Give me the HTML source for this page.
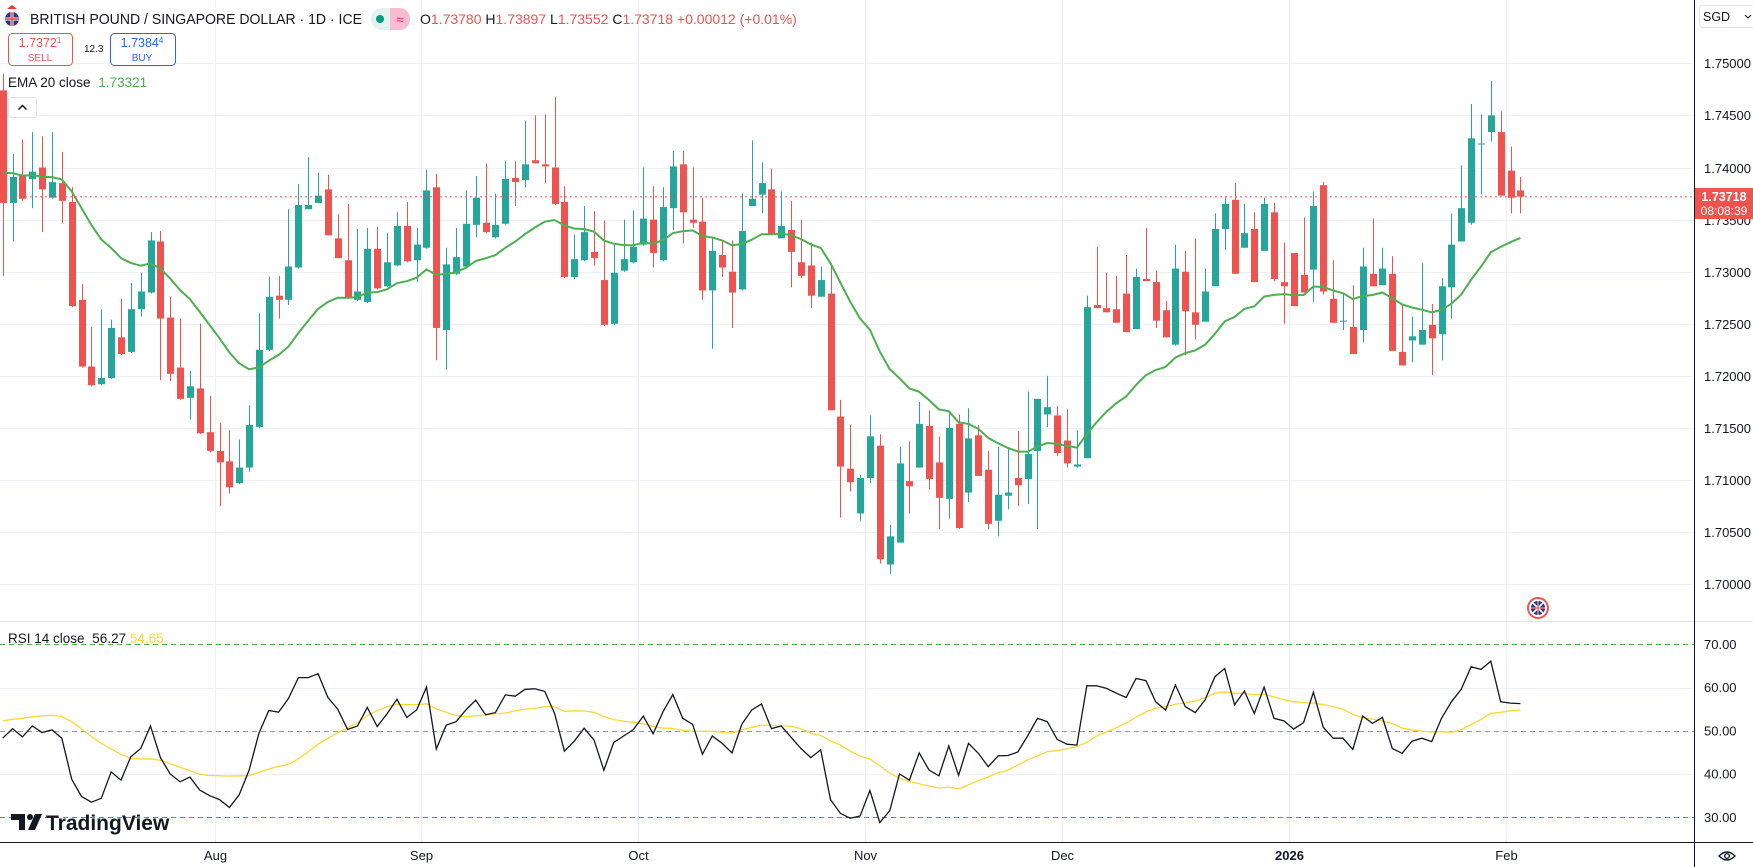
<!DOCTYPE html>
<html><head><meta charset="utf-8"><style>
html,body{margin:0;padding:0;background:#fff;width:1753px;height:867px;overflow:hidden}
svg{display:block;font-family:"Liberation Sans",sans-serif}
</style></head><body>
<svg id="chart" width="1753" height="867" viewBox="0 0 1753 867" xmlns="http://www.w3.org/2000/svg">
<rect width="1753" height="867" fill="#fff"/>
<g id="grid"></g>
<g id="rsiLevels"></g>
<g id="candles"></g>
<path id="ema" fill="none" stroke="#4caf50" stroke-width="2"/>
<path id="rsiMa" fill="none" stroke="#fdd835" stroke-width="1.3"/>
<path id="rsi" fill="none" stroke="#131722" stroke-width="1.3"/>
<line x1="0" x2="1694" y1="196.9" y2="196.9" stroke="#ef5350" stroke-dasharray="2,3" stroke-width="1"/>
<line x1="0" x2="1753" y1="621.5" y2="621.5" stroke="#e0e3eb"/>
<line x1="1694.5" x2="1694.5" y1="0" y2="867" stroke="#131722" stroke-width="1"/>
<line x1="0" x2="1753" y1="842.5" y2="842.5" stroke="#131722" stroke-width="1"/>
<g id="yLabels" font-size="13" fill="#131722"></g>
<g id="xLabels" font-size="13" fill="#131722"></g>
<g>
<rect x="1695" y="188" width="58" height="31" fill="#ef5350"/>
<text x="1724" y="201" font-size="12.5" font-weight="bold" fill="#fff" text-anchor="middle">1.73718</text>
<text x="1724" y="215" font-size="12" fill="#fff" text-anchor="middle">08:08:39</text>
</g>
<g>
<rect x="1699.5" y="5.5" width="56" height="22" rx="3" fill="#fff" stroke="#e0e3eb"/>
<text x="1703" y="21" font-size="12.5" fill="#131722">SGD</text>
<path d="M1745 15 l3 3 l3 -3" fill="none" stroke="#131722" stroke-width="1"/>
</g>
<g>
<circle cx="12" cy="19" r="7" fill="#1e3a8a"/>
<path d="M5 19 h14 M12 12 v14" stroke="#fff" stroke-width="3"/>
<path d="M5 19 h14 M12 12 v14" stroke="#e53935" stroke-width="1.4"/>
<path d="M7 9 l5 -4 l5 4z" fill="#e53935"/>
</g>
<text x="30" y="24" font-size="15" textLength="332" lengthAdjust="spacingAndGlyphs" fill="#131722">BRITISH POUND / SINGAPORE DOLLAR · 1D · ICE</text>
<g>
<rect x="371" y="8" width="39" height="22" rx="11" fill="#e3f2ef"/>
<rect x="390" y="8" width="10" height="22" fill="#f8bbd0"/>
<path d="M400 8 h0 a10 11 0 0 1 0 22 h0z" fill="#f8bbd0"/>
<circle cx="380" cy="19" r="4" fill="#089981"/>
<text x="400" y="24" font-size="13" fill="#e91e63" text-anchor="middle">≈</text>
</g>
<text x="420" y="24" font-size="14" fill="#ef5350"><tspan fill="#131722">O</tspan>1.73780 <tspan fill="#131722">H</tspan>1.73897 <tspan fill="#131722">L</tspan>1.73552 <tspan fill="#131722">C</tspan>1.73718 +0.00012 (+0.01%)</text>
<g>
<rect x="8.5" y="33.5" width="64" height="32" rx="4" fill="#fff" stroke="#ef5350"/>
<text x="40" y="47" font-size="12.5" fill="#ef5350" text-anchor="middle">1.7372<tspan font-size="8" dy="-4">1</tspan></text>
<text x="40" y="61" font-size="10" fill="#ef5350" text-anchor="middle">SELL</text>
</g>
<text x="84" y="52" font-size="10" fill="#131722">12.3</text>
<g>
<rect x="110.5" y="33.5" width="65" height="32" rx="4" fill="#fff" stroke="#2962ff"/>
<text x="142" y="47" font-size="12.5" fill="#2962ff" text-anchor="middle">1.7384<tspan font-size="8" dy="-4">4</tspan></text>
<text x="142" y="61" font-size="10" fill="#2962ff" text-anchor="middle">BUY</text>
</g>
<text x="8" y="87" font-size="13.5" fill="#131722">EMA 20 close <tspan fill="#4caf50" dx="4">1.73321</tspan></text>
<g>
<rect x="8.5" y="97.5" width="28" height="20" rx="3" fill="#fff" stroke="#e0e3eb"/>
<path d="M18.5 109.5 l4 -4 l4 4" fill="none" stroke="#131722" stroke-width="1.5"/>
</g>
<text x="8" y="643" font-size="13.5" fill="#131722">RSI 14 close <tspan dx="4">56.27</tspan> <tspan fill="#fdd835">54.65</tspan></text>
<g>
<circle cx="1538" cy="608" r="10" fill="#fff" stroke="#ef5350" stroke-width="2"/>
<circle cx="1538" cy="608" r="7" fill="#1e3a8a"/>
<path d="M1531 608 h14 M1538 601 v14 M1533 603 l10 10 M1543 603 l-10 10" stroke="#fff" stroke-width="1.6"/>
<path d="M1531 608 h14 M1538 601 v14" stroke="#e53935" stroke-width="1"/>
</g>
<g>
<path d="M11 814 h14 v16 h-6 v-10 h-8z" fill="#131722"/>
<circle cx="30" cy="817" r="3" fill="#131722"/>
<path d="M35 814 h7 l-7 16 h-7z" fill="#131722"/>
<text x="46" y="830" font-size="21" font-weight="bold" fill="#131722">TradingView</text>
</g>
<g>
<path d="M1719 856 q8 -8 16 0 q-8 8 -16 0z" fill="none" stroke="#131722" stroke-width="1.3"/>
<circle cx="1727" cy="856" r="2.3" fill="none" stroke="#131722" stroke-width="1.3"/>
</g>
</svg>
<script>
const opens=[1.7474,1.7366,1.7393,1.7389,1.7400,1.7371,1.7385,1.7367,1.7273,1.7209,1.7192,1.7198,1.7237,1.7223,1.7264,1.7280,1.7329,1.7256,1.7208,1.7179,1.7188,1.7146,1.7128,1.7118,1.7097,1.7112,1.7151,1.7225,1.7277,1.7273,1.7304,1.7360,1.7366,1.7379,1.7332,1.7311,1.7273,1.7271,1.7322,1.7286,1.7306,1.7344,1.7311,1.7323,1.7381,1.7244,1.7298,1.7305,1.7345,1.7347,1.7333,1.7346,1.7390,1.7388,1.7407,1.7403,1.7400,1.7367,1.7295,1.7311,1.7319,1.7292,1.7250,1.7301,1.7309,1.7326,1.7350,1.7311,1.7361,1.7403,1.7350,1.7348,1.7282,1.7316,1.7300,1.7283,1.7363,1.7374,1.7379,1.7332,1.7340,1.7309,1.7306,1.7276,1.7279,1.7161,1.7111,1.7068,1.7102,1.7133,1.7019,1.7040,1.7099,1.7112,1.7152,1.7117,1.7082,1.7154,1.7088,1.7143,1.7110,1.7061,1.7085,1.7102,1.7101,1.7128,1.7163,1.7162,1.7138,1.7113,1.7121,1.7268,1.7265,1.7264,1.7279,1.7245,1.7293,1.7290,1.7263,1.7230,1.7300,1.7261,1.7252,1.7286,1.7341,1.7369,1.7323,1.7341,1.7320,1.7357,1.7290,1.7318,1.7297,1.7302,1.7383,1.7274,1.7252,1.7247,1.7244,1.7298,1.7287,1.7298,1.7223,1.7234,1.7230,1.7249,1.7240,1.7285,1.7329,1.7347,1.7423,1.7434,1.7434,1.7397,1.7378];
const highs=[1.7490,1.7413,1.7427,1.7434,1.7430,1.7434,1.7415,1.7381,1.7288,1.7247,1.7264,1.7254,1.7274,1.7289,1.7299,1.7338,1.7339,1.7276,1.7255,1.7205,1.7250,1.7181,1.7155,1.7148,1.7139,1.7172,1.7260,1.7295,1.7296,1.7360,1.7384,1.7410,1.7395,1.7393,1.7355,1.7365,1.7341,1.7342,1.7343,1.7337,1.7357,1.7367,1.7342,1.7398,1.7394,1.7323,1.7342,1.7378,1.7392,1.7404,1.7375,1.7406,1.7406,1.7445,1.7450,1.7451,1.7468,1.7382,1.7336,1.7363,1.7358,1.7349,1.7327,1.7350,1.7359,1.7400,1.7382,1.7381,1.7416,1.7416,1.7400,1.7371,1.7332,1.7330,1.7330,1.7375,1.7426,1.7405,1.7399,1.7377,1.7368,1.7350,1.7328,1.7305,1.7308,1.7177,1.7153,1.7105,1.7162,1.7144,1.7057,1.7132,1.7137,1.7175,1.7167,1.7142,1.7165,1.7163,1.7169,1.7153,1.7128,1.7132,1.7131,1.7147,1.7185,1.7178,1.7200,1.7171,1.7168,1.7148,1.7277,1.7324,1.7299,1.7296,1.7316,1.7303,1.7342,1.7301,1.7272,1.7326,1.7320,1.7332,1.7303,1.7356,1.7372,1.7385,1.7365,1.7357,1.7371,1.7366,1.7328,1.7318,1.7352,1.7377,1.7386,1.7311,1.7280,1.7287,1.7323,1.7351,1.7323,1.7315,1.7269,1.7257,1.7308,1.7269,1.7294,1.7356,1.7402,1.7461,1.7451,1.7483,1.7454,1.7420,1.7391];
const lows=[1.7296,1.7329,1.7368,1.7361,1.7338,1.7370,1.7347,1.7266,1.7208,1.7190,1.7191,1.7197,1.7220,1.7222,1.7257,1.7279,1.7196,1.7195,1.7177,1.7158,1.7144,1.7127,1.7075,1.7087,1.7096,1.7108,1.7150,1.7224,1.7255,1.7268,1.7303,1.7360,1.7366,1.7335,1.7313,1.7274,1.7272,1.7270,1.7283,1.7285,1.7305,1.7309,1.7290,1.7322,1.7215,1.7206,1.7297,1.7304,1.7333,1.7337,1.7332,1.7345,1.7363,1.7381,1.7404,1.7385,1.7364,1.7294,1.7293,1.7310,1.7306,1.7248,1.7249,1.7300,1.7308,1.7325,1.7304,1.7310,1.7340,1.7327,1.7342,1.7273,1.7226,1.7295,1.7246,1.7282,1.7363,1.7356,1.7336,1.7332,1.7285,1.7294,1.7265,1.7276,1.7167,1.7064,1.7089,1.7061,1.7097,1.7020,1.7010,1.7040,1.7068,1.7112,1.7091,1.7053,1.7063,1.7053,1.7079,1.7104,1.7053,1.7046,1.7072,1.7075,1.7077,1.7053,1.7151,1.7123,1.7112,1.7112,1.7121,1.7265,1.7261,1.7251,1.7242,1.7245,1.7291,1.7246,1.7237,1.7229,1.7220,1.7235,1.7252,1.7286,1.7321,1.7298,1.7323,1.7290,1.7320,1.7291,1.7250,1.7267,1.7280,1.7271,1.7278,1.7251,1.7244,1.7221,1.7232,1.7286,1.7287,1.7224,1.7210,1.7213,1.7230,1.7201,1.7215,1.7255,1.7329,1.7345,1.7374,1.7425,1.7373,1.7356,1.7356];
const closes=[1.7366,1.7391,1.7370,1.7396,1.7379,1.7386,1.7368,1.7267,1.7209,1.7191,1.7198,1.7246,1.7221,1.7264,1.7281,1.7330,1.7255,1.7202,1.7178,1.7190,1.7145,1.7128,1.7117,1.7093,1.7112,1.7153,1.7225,1.7276,1.7273,1.7305,1.7364,1.7364,1.7373,1.7335,1.7313,1.7275,1.7281,1.7322,1.7284,1.7309,1.7344,1.7310,1.7326,1.7378,1.7246,1.7307,1.7314,1.7346,1.7371,1.7338,1.7345,1.7389,1.7386,1.7403,1.7404,1.7401,1.7365,1.7295,1.7312,1.7338,1.7313,1.7249,1.7299,1.7312,1.7324,1.7351,1.7318,1.7362,1.7401,1.7357,1.7347,1.7282,1.7320,1.7304,1.7280,1.7339,1.7370,1.7385,1.7336,1.7344,1.7319,1.7296,1.7277,1.7292,1.7167,1.7113,1.7098,1.7102,1.7142,1.7024,1.7046,1.7116,1.7094,1.7154,1.7101,1.7083,1.7150,1.7054,1.7140,1.7104,1.7058,1.7086,1.7088,1.7095,1.7125,1.7178,1.7170,1.7126,1.7116,1.7115,1.7266,1.7265,1.7261,1.7251,1.7242,1.7295,1.7291,1.7253,1.7237,1.7303,1.7262,1.7249,1.7281,1.7341,1.7365,1.7298,1.7337,1.7290,1.7365,1.7293,1.7286,1.7267,1.7280,1.7363,1.7281,1.7251,1.7253,1.7221,1.7305,1.7286,1.7303,1.7224,1.7210,1.7238,1.7244,1.7236,1.7286,1.7326,1.7361,1.7428,1.7423,1.7450,1.7373,1.7371,1.7372];
const rsiValues=[48.3,50.5,48.6,51.1,49.6,50.2,48.3,38.8,34.8,33.5,34.4,40.5,38.6,44.0,45.9,51.1,43.8,40.0,38.2,39.3,36.3,35.0,34.1,32.3,35.2,40.9,49.4,54.7,54.3,57.5,62.3,62.3,63.2,57.7,55.0,50.3,51.1,55.4,51.0,53.9,57.3,53.1,54.8,60.1,45.8,51.3,52.1,54.8,57.1,53.7,54.2,58.3,58.0,59.6,59.7,59.1,54.0,45.3,47.6,50.6,47.9,40.9,47.3,48.8,50.3,53.4,49.3,54.4,58.4,52.9,51.5,44.6,48.8,47.1,44.9,51.5,54.8,56.2,50.5,51.1,48.5,45.9,43.8,45.6,34.1,30.9,29.8,30.3,36.2,28.8,31.5,40.0,38.6,44.9,40.9,39.6,46.5,39.7,47.1,44.8,41.7,44.2,44.3,45.1,48.8,52.9,52.1,48.0,46.9,46.7,60.4,60.4,59.8,58.7,57.7,62.1,61.6,56.7,54.8,60.6,55.6,54.2,57.1,62.5,64.4,56.0,59.2,54.0,60.1,52.9,52.3,50.4,51.9,58.9,50.8,48.3,48.3,45.7,53.4,51.7,53.1,45.9,44.8,47.6,48.3,47.5,52.9,56.7,59.6,64.8,64.2,66.1,56.7,56.4,56.3];
const priorRsi=[46,45,46,47,48,52,56,58,58,57,58,57,56];
const emaSeed=[1.7398];
const priceTicks=["1.75000","1.74500","1.74000","1.73500","1.73000","1.72500","1.72000","1.71500","1.71000","1.70500","1.70000"];
const rsiTicks=["70.00","60.00","50.00","40.00","30.00"];
const monthLabels=["Aug","Sep","Oct","Nov","Dec","2026","Feb"];
const monthStartIdx=[22.0,42.9,65.0,88.0,108.0,131.0,153.0];

const NS="http://www.w3.org/2000/svg";
const X0=2.7, STEP=9.855, BODY=7;
function xOf(i){return X0+i*STEP;}
function yP(p){return 63.3+(1.75-p)/0.005*52.1;}
function yR(v){return 644.3+(70-v)*4.325;}
function mk(tag,attrs,parent){const e=document.createElementNS(NS,tag);for(const k in attrs)e.setAttribute(k,attrs[k]);parent.appendChild(e);return e;}

const grid=document.getElementById('grid');
priceTicks.forEach(t=>{const y=Math.round(yP(parseFloat(t)))+0.5;
 const l=mk('line',{x1:0,x2:1694,y1:y,y2:y,stroke:'#eef1f6','stroke-width':1},grid);
 
 
 const tx=mk('text',{x:1704,y:y+4.5},document.getElementById('yLabels'));tx.textContent=t;
 
 
});
[60,40].forEach(v=>{const y=Math.round(yR(v))+0.5;
 const l=mk('line',{x1:0,x2:1694,y1:y,y2:y,stroke:'#eef1f6'},grid);
 
 
});
monthStartIdx.forEach((m,k)=>{const x=Math.round(xOf(m-0.5))+0.5;
 const l=mk('line',{x1:x,x2:x,y1:0,y2:842,stroke:'#eef1f6'},grid);
 
 
 const tx=mk('text',{x:x,y:860,'text-anchor':'middle'},document.getElementById('xLabels'));
 tx.textContent=monthLabels[k];
 if(monthLabels[k]==='2026')tx.setAttribute('font-weight','bold');
 
 
});
const rl=document.getElementById('rsiLevels');
[[70,'#4caf50'],[50,'#9598a1'],[30,'#ef5350']].forEach(([v,c])=>{const y=Math.round(yR(v))+0.5;
 const l=mk('line',{x1:0,x2:1694,y1:y,y2:y,stroke:c,'stroke-dasharray':'5,4'},rl);
 
 
});
rsiTicks.forEach(t=>{const y=yR(parseFloat(t));
 const tx=mk('text',{x:1704,y:y+4.5},document.getElementById('yLabels'));tx.textContent=t;
 
 
});
const cg=document.getElementById('candles');
for(let i=0;i<closes.length;i++){
 const up=closes[i]>=opens[i]; const col=up?'#26a69a':'#ef5350';
 const x=xOf(i);
 const g=mk('g',{},cg);
 
 
 mk('line',{x1:Math.round(x)+0.5,x2:Math.round(x)+0.5,y1:yP(highs[i]),y2:yP(lows[i]),stroke:col,'stroke-width':1},g);
 const top=yP(Math.max(opens[i],closes[i])), bot=yP(Math.min(opens[i],closes[i]));
 mk('rect',{x:Math.round(x)+0.5-BODY/2,y:top,width:BODY,height:Math.max(1,bot-top),fill:col},g);
}
let e=emaSeed[0], a=2/21, d='';
closes.forEach((c,i)=>{e=e+a*(c-e); d+=(i?'L':'M')+xOf(i).toFixed(1)+' '+yP(e).toFixed(1);});
document.getElementById('ema').setAttribute('d',d);
let dr='';
rsiValues.forEach((v,i)=>{dr+=(i?'L':'M')+xOf(i).toFixed(1)+' '+yR(v).toFixed(1);});
document.getElementById('rsi').setAttribute('d',dr);
const all=priorRsi.concat(rsiValues); let dm='';
rsiValues.forEach((v,i)=>{let s=0;for(let k=0;k<14;k++)s+=all[i+k];dm+=(i?'L':'M')+xOf(i).toFixed(1)+' '+yR(s/14).toFixed(1);});
document.getElementById('rsiMa').setAttribute('d',dm);
</script>
</body></html>
